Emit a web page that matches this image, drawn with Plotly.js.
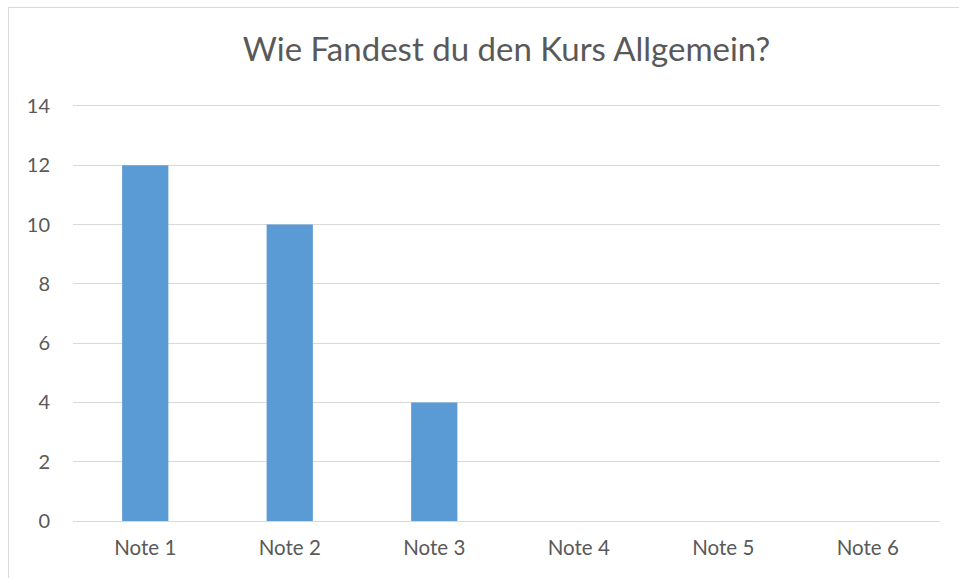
<!DOCTYPE html>
<html><head><meta charset="utf-8">
<script src="https://cdn.plot.ly/plotly-3.0.1.min.js"></script>
<style>
body{margin:0;padding:0;background:#fff;overflow:hidden}
#c{width:959px;height:578px;position:absolute;left:0;top:0}
#frame{position:absolute;left:8px;top:7px;width:1200px;height:800px;border-left:1px solid #d9d9d9;border-top:1px solid #d9d9d9;pointer-events:none}
</style>
</head><body><div id="c"></div><div id="frame"></div>
<script>
const categories = ["Note 1","Note 2","Note 3","Note 4","Note 5","Note 6"];
const values = [12, 10, 4, 0, 0, 0];
const yTicks = [0, 2, 4, 6, 8, 10, 12, 14];

const W = 959, H = 578;
const m = {l: 73, r: 19, t: 103, b: 57};

const font = "Lato, 'Open Sans', sans-serif";
Plotly.newPlot('c', [{
  type: 'bar', x: categories, y: values,
  marker: {color: '#5B9BD5'}, hoverinfo: 'x+y'
}], {
  width: W, height: H,
  margin: m,
  paper_bgcolor: 'rgba(0,0,0,0)', plot_bgcolor: 'rgba(0,0,0,0)',
  bargap: 0.68,
  title: {text: 'Wie Fandest du den Kurs Allgemein?', font: {family: font, size: 33, color: '#595959'},
          x: 0.5, xref: 'paper', y: 1 - 49/H, yanchor: 'middle'},
  xaxis: {showgrid: false, zeroline: false, showline: false, ticks: '',
          tickfont: {family: font, size: 20.5, color: '#595959'}, ticklabelstandoff: 12},
  yaxis: {range: [0, 14.1], tickvals: yTicks, showgrid: true, gridcolor: '#d9d9d9', gridwidth: 1,
          zeroline: true, zerolinecolor: '#d9d9d9', zerolinewidth: 1, showline: false, ticks: '',
          tickfont: {family: font, size: 20, color: '#595959'}, ticklabelstandoff: 22},
  showlegend: false
}, {displayModeBar: false, staticPlot: true});
</script></body></html>
